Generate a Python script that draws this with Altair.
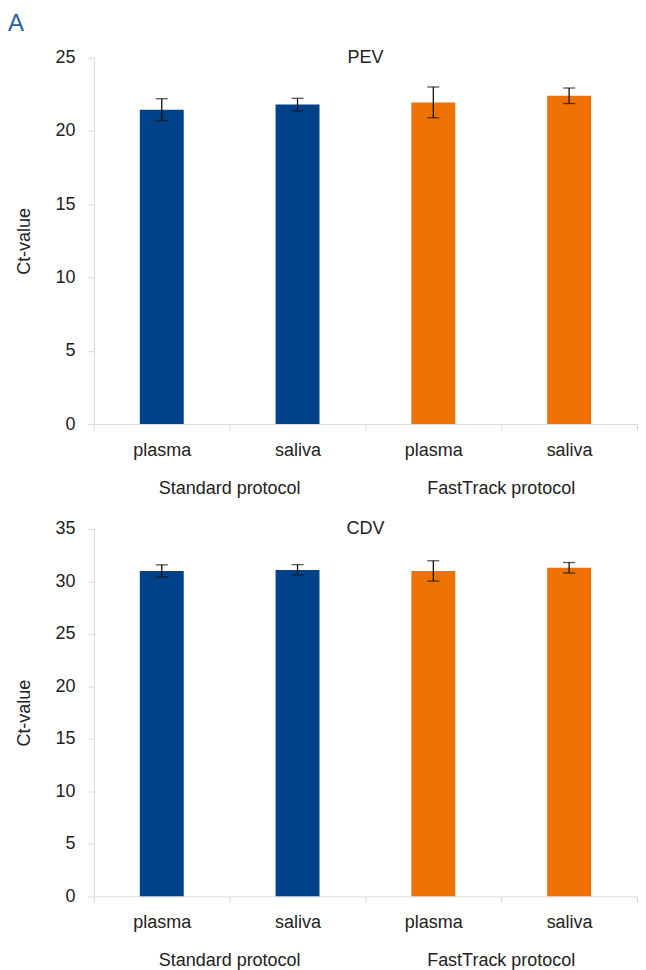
import altair as alt
import pandas as pd

# ---- data ----
groups = ["Standard protocol", "Standard protocol", "FastTrack protocol", "FastTrack protocol"]
samples = ["plasma", "saliva", "plasma", "saliva"]
bar_colors = ["#00428a", "#00428a", "#ee7203", "#ee7203"]
pev_mean = [21.45, 21.8, 21.95, 22.4]
pev_err = [0.75, 0.43, 1.05, 0.53]
cdv_mean = [31.0, 31.1, 31.0, 31.3]
cdv_err = [0.58, 0.5, 0.97, 0.5]
pev_ticks = [0, 5, 10, 15, 20, 25]
cdv_ticks = [0, 5, 10, 15, 20, 25, 30, 35]
panel_letter = "A"

FONT = "Liberation Sans"
TXT = "#222222"
AX = "#d9d9d9"
W = 544
FS = 18


def panel(title, means, errs, ticks, h, letter=None):
    keys = [f"{g}|{s}" for g, s in zip(groups, samples)]
    df = pd.DataFrame({"key": keys, "group": groups, "sample": samples,
                       "mean": means, "err": errs, "color": bar_colors})
    df["lo"] = df["mean"] - df["err"]
    df["hi"] = df["mean"] + df["err"]
    base = alt.Chart(df)
    xs = alt.Scale(paddingInner=0, paddingOuter=0)
    x = alt.X("key:N", sort=keys, scale=xs,
              axis=alt.Axis(title=None, labelExpr="split(datum.label, '|')[1]",
                            labelAngle=0, tickBand="extent", domainColor=AX,
                            tickColor=AX, tickSize=6, labelPadding=11,
                            labelFont=FONT, labelFontSize=FS, labelColor=TXT))
    y = alt.Y("mean:Q", scale=alt.Scale(domain=[ticks[0], ticks[-1]], nice=False),
              axis=alt.Axis(title="Ct-value", values=ticks, grid=False,
                            domainColor=AX, tickColor=AX, tickSize=6,
                            labelPadding=13, labelFont=FONT, labelFontSize=FS,
                            labelColor=TXT, titleFont=FONT, titleFontSize=FS,
                            titleFontWeight="normal", titleColor=TXT,
                            titlePadding=21))
    bars = base.mark_bar(size=44).encode(x=x, y=y, color=alt.Color("color:N", scale=None))
    rule = base.mark_rule(color="#111", strokeWidth=1.3).encode(
        x=alt.X("key:N", sort=keys), y="lo:Q", y2="hi:Q")
    cap_lo = base.mark_tick(color="#111", size=12, thickness=1.3).encode(
        x=alt.X("key:N", sort=keys), y="lo:Q")
    cap_hi = base.mark_tick(color="#111", size=12, thickness=1.3).encode(
        x=alt.X("key:N", sort=keys), y="hi:Q")
    glab = base.transform_filter(alt.datum.sample == "plasma").mark_text(
        font=FONT, fontSize=FS, color=TXT, baseline="middle").encode(
        x=alt.X("key:N", sort=keys, bandPosition=1), y=alt.value(h + 65), text="group:N")
    ttl = alt.Chart(pd.DataFrame({"t": [title]})).mark_text(
        font=FONT, fontSize=FS, color=TXT, baseline="middle").encode(
        x=alt.value(W / 2), y=alt.value(0), text="t:N")
    layers = [bars, rule, cap_lo, cap_hi, glab, ttl]
    if letter:
        lt = alt.Chart(pd.DataFrame({"t": [letter]})).mark_text(
            font=FONT, fontSize=24, color="#2c5fa6", baseline="middle", align="left").encode(
            x=alt.value(-86), y=alt.value(-34), text="t:N")
        layers.append(lt)
    return alt.layer(*layers).properties(width=W, height=h)


top = panel("PEV", pev_mean, pev_err, pev_ticks, 367, panel_letter)
bottom = panel("CDV", cdv_mean, cdv_err, cdv_ticks, 368)

chart = alt.vconcat(top, bottom, spacing=22).properties(
    padding={"left": 0, "top": 3, "right": 0, "bottom": 0},
).configure_view(stroke=None)

chart.save("out.html", embed_options={"renderer": "svg", "actions": False})
